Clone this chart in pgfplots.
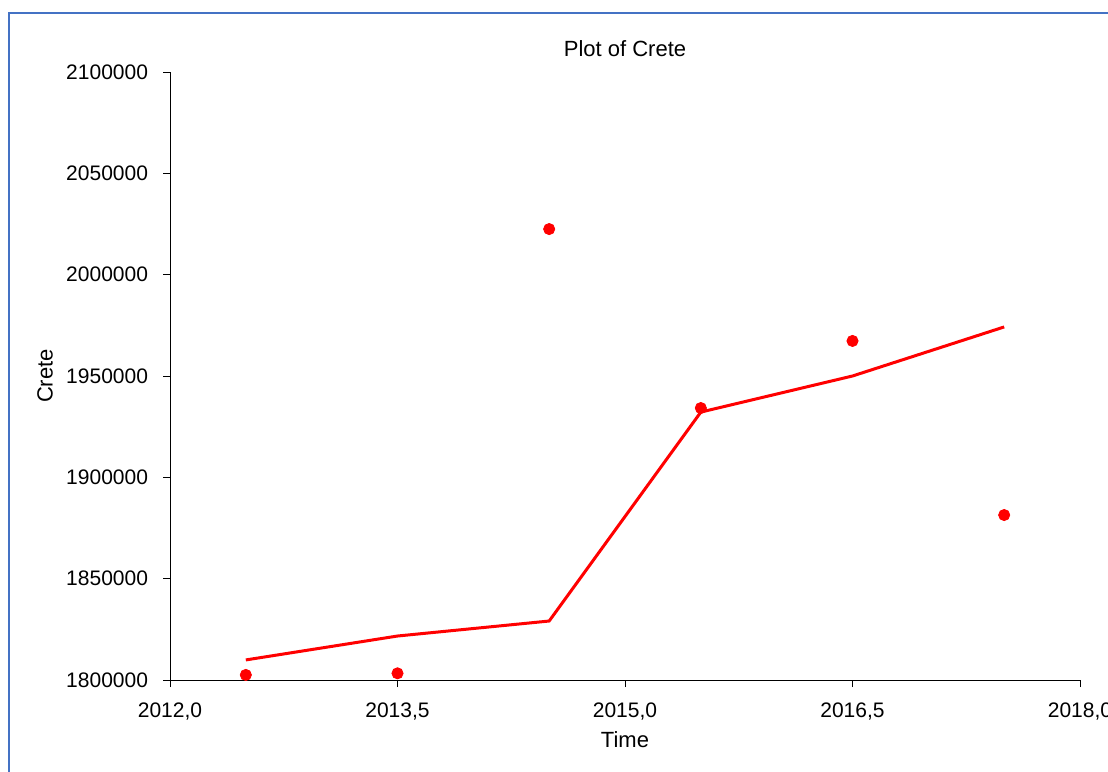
\documentclass[border=0pt]{standalone}
\usepackage{fontspec}
\setmainfont{Liberation Sans}
\usepackage{pgfplots}
\pgfplotsset{compat=1.18}
\definecolor{framblue}{RGB}{68,114,196}
\begin{document}
\begin{tikzpicture}
\useasboundingbox (0,0) rectangle (554pt,385.5pt);
\clip (0,0) rectangle (554pt,385.5pt);
\fill[white] (0,0) rectangle (554pt,385.5pt);
\draw[framblue, line width=1pt] (4.25pt,-10pt) |- (570pt,378.75pt);
\begin{axis}[
  at={(85pt,45.5pt)}, anchor=south west,
  scale only axis, width=455pt, height=304pt,
  xmin=2012, xmax=2018, ymin=1800000, ymax=2100000,
  axis lines=left, axis line style={-, line width=0.5pt, black},
  xtick={2012,2013.5,2015,2016.5,2018},
  ytick={1800000,1850000,1900000,1950000,2000000,2050000,2100000},
  scaled y ticks=false, scaled x ticks=false,
  tick align=outside, major tick length=3.5pt,
  tick style={black, line width=0.5pt},
  /pgf/number format/assume math mode=true,
  xticklabel style={font=\fontsize{10.5}{12}\selectfont, yshift=-4.5pt,
    /pgf/number format/.cd, fixed, fixed zerofill, precision=1, use comma, 1000 sep={}},
  yticklabel style={font=\fontsize{10.5}{12}\selectfont, xshift=-4pt,
    /pgf/number format/.cd, fixed, precision=0, 1000 sep={}},
  title={Plot of Crete},
  every axis title shift=0pt,
  title style={font=\fontsize{11}{13}\selectfont, at={(axis description cs:0.5,1)}, anchor=center, yshift=11.5pt},
  xlabel={Time},
  xlabel style={font=\fontsize{11}{13}\selectfont, at={(axis description cs:0.5,-0.0987)}, anchor=center},
  ylabel={Crete},
  ylabel style={font=\fontsize{11}{13}\selectfont, at={(axis description cs:-0.1374,0.5)}, anchor=center},
]
\addplot[only marks, mark=*, mark size=2.8pt, color=red, mark options={draw=red, fill=red}] coordinates {
  (2012.5,1802500) (2013.5,1803300) (2014.5,2022500) (2015.5,1934200) (2016.5,1967300) (2017.5,1881400)
};
\addplot[no marks, color=red, line width=1.5pt] coordinates {
  (2012.5,1809900) (2013.5,1821700) (2014.5,1829100) (2015.5,1932200) (2016.5,1950000) (2017.5,1974200)
};
\end{axis}
\end{tikzpicture}
\end{document}
